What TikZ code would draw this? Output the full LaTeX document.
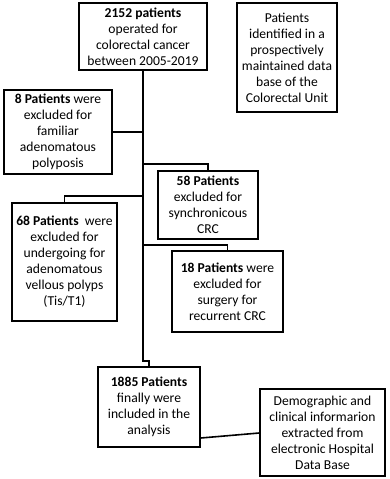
\documentclass[tikz,border=0pt]{standalone}
\usepackage{fontspec}
\setmainfont{Carlito}
\begin{document}
\begin{tikzpicture}[x=1pt,y=-1pt,
  box/.style={draw=black, line width=1.6pt, align=center, inner sep=1pt,
    font=\fontsize{13.6}{16}\selectfont},
  link/.style={draw=black, line width=1.6pt}]
\useasboundingbox[fill=white] (0,0) rectangle (389,479);
\node[box, minimum width=128pt, minimum height=67pt] (top) at (143,36.5)
  {\textbf{2152 patients}\\operated for\\colorectal cancer\\between 2005-2019};
\node[box, minimum width=100pt, minimum height=109pt] (src) at (287,57.5)
  {Patients\\identified in a\\prospectively\\maintained data\\base of the\\Colorectal Unit};
\node[box, minimum width=108pt, minimum height=84pt] (b8) at (58,132)
  {\textbf{8 Patients} were\\excluded for\\familiar\\adenomatous\\polyposis};
\node[box, minimum width=100pt, minimum height=68pt] (b58) at (208,205)
  {\textbf{58 Patients}\\excluded for\\synchronicous\\CRC};
\node[box, minimum width=105pt, minimum height=118pt] (b68) at (64.5,262)
  {\textbf{68 Patients}\ \ were\\excluded for\\undergoing for\\adenomatous\\vellous polyps\\(Tis/T1)};
\node[box, minimum width=111pt, minimum height=81pt] (b18) at (227.5,291.5)
  {\textbf{18 Patients} were\\excluded for\\surgery for\\recurrent CRC};
\node[box, minimum width=102pt, minimum height=80pt] (fin) at (149,407)
  {\textbf{1885 Patients}\\finally were\\included in the\\analysis};
\node[box, minimum width=125pt, minimum height=87pt] (demo) at (322.5,432.5)
  {Demographic and\\clinical informarion\\extracted from\\electronic Hospital\\Data Base};
\coordinate (c58) at (143,164);
\coordinate (c68) at (143,196);
\coordinate (c18) at (143,245);
\coordinate (jog) at (143,361);
\draw[link] (top.south) -- (jog) -| (fin.north);
\draw[link] (b8.east) -- (b8.east -| top.south);
\draw[link] (c58) -| (b58.north);
\draw[link] (c68) -| (b68.north);
\draw[link] (c18) -| (b18.north);
\draw[link] (fin.east |- 0,438) -- (demo.west |- 0,433);
\end{tikzpicture}
\end{document}
